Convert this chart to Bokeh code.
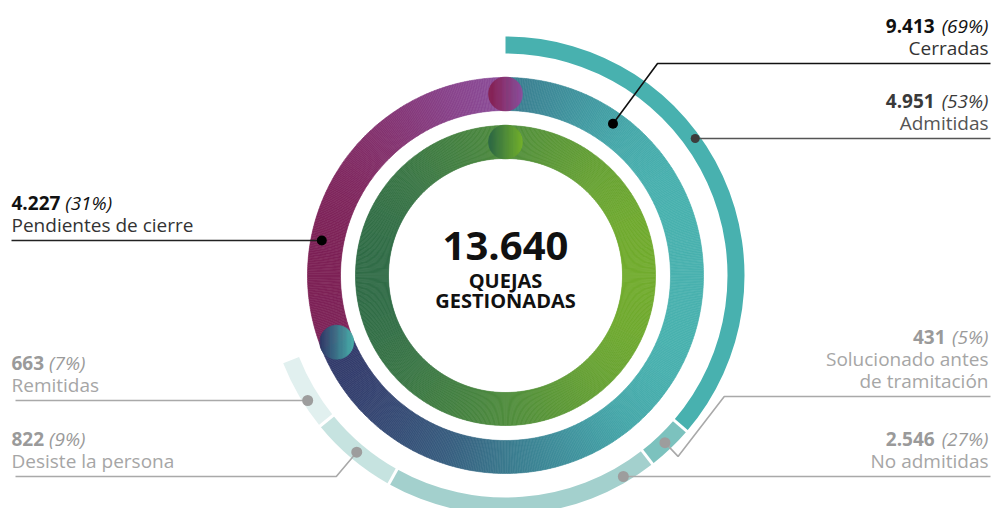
import math
from bokeh.plotting import figure
from bokeh.models import Range1d
from bokeh.core.properties import value
from bokeh.embed import file_html
from bokeh.resources import INLINE

# ---------------- data ----------------
total_value = 13640
total_lines = ["QUEJAS", "GESTIONADAS"]
main_labels = ["Cerradas", "Pendientes de cierre"]
main_values = [9413, 4227]
main_pcts = [69, 31]
sub_labels = ["Admitidas", "Solucionado antes de tramitación", "No admitidas",
              "Desiste la persona", "Remitidas"]
sub_values = [4951, 431, 2546, 822, 663]
sub_pcts = [53, 5, 27, 9, 7]

# ---------------- styles ----------------
FONT = "Open Sans"
green_stops = [(355, "#2c6848"), (505, "#4f8c3d"), (655, "#75af2b")]
teal_stops = [(307, "#2f3365"), (360, "#343f6e"), (450, "#385f80"), (505, "#3a7a8e"),
              (560, "#3f8f9b"), (620, "#45a7a9"), (660, "#48b0ae"), (703, "#49b2af")]
purple_stops = [(305, "#7b1d4f"), (370, "#822e68"), (450, "#88438b"), (505, "#8c4f9b")]
outer_colors = ["#48b1af", "#7cc2be", "#a3d0cd", "#c6e3e0", "#e1f0ef"]

W, H = 992, 508
p = figure(width=W, height=H, x_range=Range1d(0, 992), y_range=Range1d(0, 508),
           output_backend="svg", toolbar_location=None, x_axis_type=None, y_axis_type=None,
           min_border=0, outline_line_color=None)
p.grid.visible = False
p.background_fill_color = "white"
p.border_fill_color = "white"

CX, CY_IMG = 505.0, 275.0
CY = 508 - CY_IMG
R_IN = (117, 150)
R_MID = (165, 198)
R_OUT = (222, 239)
BASE_SHIFT = 0.42  # em offset of rendered alphabetic baseline


def Y(img_y):
    return 508 - img_y


def pt(theta, r):
    t = math.radians(theta)
    return CX + r * math.sin(t), CY + r * math.cos(t)


def h2r(h):
    h = h.lstrip("#")
    return tuple(int(h[i:i + 2], 16) for i in (0, 2, 4))


def r2h(c):
    return "#%02x%02x%02x" % tuple(int(round(v)) for v in c)


def mix(a, b, t):
    A, B = h2r(a), h2r(b)
    return r2h([A[i] + (B[i] - A[i]) * t for i in range(3)])


def grad(stops, x):
    if x <= stops[0][0]:
        return stops[0][1]
    for (x0, c0), (x1, c1) in zip(stops, stops[1:]):
        if x <= x1:
            return mix(c0, c1, (x - x0) / (x1 - x0))
    return stops[-1][1]


def gradient_arc(th0, th1, r0, r1, stops, step=0.5):
    n = max(1, int(math.ceil((th1 - th0) / step)))
    starts, ends, cols = [], [], []
    for i in range(n):
        a = th0 + (th1 - th0) * i / n
        b = th0 + (th1 - th0) * (i + 1) / n
        m = (a + b) / 2
        xm = CX + (r0 + r1) / 2 * math.sin(math.radians(m))
        starts.append(math.radians(90 - b))
        ends.append(math.radians(90 - a))
        cols.append(grad(stops, xm))
    p.annular_wedge(x=CX, y=CY, inner_radius=r0, outer_radius=r1,
                    start_angle=starts, end_angle=ends,
                    fill_color=cols, line_color=cols, line_width=0.6)


def ball(theta, r_ring, rad, c0, c1, n=30):
    cx, cy = pt(theta, r_ring)
    xs, ys, cols = [], [], []
    for i in range(n):
        x0 = cx - rad + 2 * rad * i / n
        x1 = cx - rad + 2 * rad * (i + 1) / n
        top, bot = [], []
        for j in range(5):
            x = x0 + (x1 - x0) * j / 4
            hh = math.sqrt(max(rad * rad - (x - cx) ** 2, 0))
            top.append((x, cy + hh))
            bot.append((x, cy - hh))
        poly = top + bot[::-1]
        xs.append([q[0] for q in poly])
        ys.append([q[1] for q in poly])
        cols.append(mix(c0, c1, (i + 0.5) / n))
    p.patches(xs, ys, fill_color=cols, line_color=cols, line_width=0.5)


# ---------------- rings ----------------
# inner ring: total
gradient_arc(0, 360, R_IN[0], R_IN[1], green_stops)

# middle ring: Cerradas / Pendientes
a_cer = 360.0 * main_values[0] / total_value
gradient_arc(0, a_cer, R_MID[0], R_MID[1], teal_stops)
gradient_arc(a_cer, 360, R_MID[0], R_MID[1], purple_stops)

# outer ring: breakdown of Cerradas
bounds = [0.0]
for v in sub_values:
    bounds.append(bounds[-1] + 360.0 * v / total_value)
p.annular_wedge(x=CX, y=CY, inner_radius=R_OUT[0], outer_radius=R_OUT[1],
                start_angle=[math.radians(90 - b) for b in bounds[1:]],
                end_angle=[math.radians(90 - a) for a in bounds[:-1]],
                fill_color=outer_colors, line_color=None)
sx0, sy0, sx1, sy1 = [], [], [], []
for b in bounds[1:-1]:
    a0 = pt(b, R_OUT[0] - 3)
    a1 = pt(b, R_OUT[1] + 3)
    sx0.append(a0[0]); sy0.append(a0[1]); sx1.append(a1[0]); sy1.append(a1[1])
p.segment(x0=sx0, y0=sy0, x1=sx1, y1=sy1, line_color="white", line_width=3)

# caps / balls
r_mid_c = (R_MID[0] + R_MID[1]) / 2
r_in_c = (R_IN[0] + R_IN[1]) / 2
ball(0, r_mid_c, 17, "#86204f", "#8e4d9d")
ball(0, r_in_c, 17, "#2b6647", "#74b02c")
ball(a_cer, r_mid_c, 17, "#303767", "#4ab4ad")


# ---------------- labels ----------------
def fmt(v):
    return f"{v:,}".replace(",", ".")


CW = {"0": .572, "1": .572, "2": .572, "3": .572, "4": .572, "5": .572, "6": .572,
      "7": .572, "8": .572, "9": .572, ".": .28, "(": .30, ")": .30, "%": .83, " ": .26}


def tw(s, size):
    return sum(CW.get(ch, .6) for ch in s) * size


def txt(x, base_img, s, size, style, color, align):
    y_img = base_img - BASE_SHIFT * size
    p.text(x=[x], y=[Y(y_img)], text=[s], text_font=value(FONT),
           text_font_size=value(f"{size}px"), text_font_style=style,
           text_color=color, text_align=align, text_baseline="alphabetic")


def block(number, pct, names, L, side, cnum, cname, size=19):
    nb = L - 30 - 22 * (len(names) - 1)
    ps = f"({pct}%)"
    ns = fmt(number)
    if side == "right":
        xr = 988
        txt(xr, nb, ps, size, "italic", cnum, "right")
        txt(xr - tw(ps, size) - tw(" ", size), nb, ns, size, "bold", cnum, "right")
        for i, nm in enumerate(names):
            txt(xr, L - 8 - 22 * (len(names) - 1 - i), nm, size, "normal", cname, "right")
    else:
        xl = 11
        txt(xl, nb, ns, size, "bold", cnum, "left")
        txt(xl + tw(ns, size) + tw(" ", size), nb, ps, size, "italic", cnum, "left")
        for i, nm in enumerate(names):
            txt(xl, L - 8 - 22 * (len(names) - 1 - i), nm, size, "normal", cname, "left")


def leader(pts_img, color, width, dot_color, dot_size):
    xs = [q[0] for q in pts_img]
    ys = [Y(q[1]) for q in pts_img]
    p.line(xs, ys, line_color=color, line_width=width)
    p.scatter([xs[0]], [ys[0]], size=dot_size, fill_color=dot_color, line_color=None)


def img_pt(theta, r):
    x, y = pt(theta, r)
    return (x, 508 - y)


def horiz_dot(L, r, side):
    dy = L - CY_IMG
    dx = math.sqrt(r * r - dy * dy)
    return (CX + dx if side == "right" else CX - dx, L)


BLACK_N, BLACK_T = "#111111", "#333333"
ADM_N, ADM_T = "#3a3a3a", "#555555"
GREY_N, GREY_T = "#9a9a9a", "#a6a6a6"
GREY_L = "#a9a9a9"

# Cerradas (middle ring, bent leader)
L = 63
d = img_pt(35.3, 186)
leader([d, (d[0] + (d[1] - L) * 0.74, L), (990, L)], "#111111", 1.6, "#000000", 10)
block(main_values[0], main_pcts[0], [main_labels[0]], L, "right", BLACK_N, BLACK_T)

# Pendientes de cierre
L = 240
d = horiz_dot(L, 187, "left")
leader([d, (11, L)], "#222222", 1.6, "#000000", 10)
block(main_values[1], main_pcts[1], [main_labels[1]], L, "left", BLACK_N, BLACK_T)

# Admitidas
L = 138
d = horiz_dot(L, 234, "right")
leader([d, (990, L)], "#555555", 1.5, "#3c3c3c", 9)
block(sub_values[0], sub_pcts[0], [sub_labels[0]], L, "right", ADM_N, ADM_T)

# Solucionado antes de tramitación
L = 396
tm = (bounds[1] + bounds[2]) / 2
d = img_pt(tm, 231)
o = img_pt(tm, 250)
xL = CX + math.sqrt(250 ** 2 - (L - CY_IMG) ** 2)
leader([d, o, (xL, L), (990, L)], GREY_L, 1.6, "#9d9d9d", 11)
block(sub_values[1], sub_pcts[1], ["Solucionado antes", "de tramitación"], L, "right", GREY_N, GREY_T)

# No admitidas
L = 476
d = horiz_dot(L, 233, "right")
leader([d, (990, L)], GREY_L, 1.6, "#9d9d9d", 11)
block(sub_values[2], sub_pcts[2], [sub_labels[2]], L, "right", GREY_N, GREY_T)

# Desiste la persona
L = 476
tm = (bounds[3] + bounds[4]) / 2
d = img_pt(tm, 231)
rad = (math.sin(math.radians(tm)), -math.cos(math.radians(tm)))
t = (L - d[1]) / rad[1]
leader([d, (d[0] + rad[0] * t, L), (15, L)], GREY_L, 1.6, "#9d9d9d", 11)
block(sub_values[3], sub_pcts[3], [sub_labels[3]], L, "left", GREY_N, GREY_T)

# Remitidas
L = 400
d = horiz_dot(L, 234, "left")
leader([d, (15, L)], GREY_L, 1.6, "#9d9d9d", 11)
block(sub_values[4], sub_pcts[4], [sub_labels[4]], L, "left", GREY_N, GREY_T)

# centre
txt(CX, 262, fmt(total_value), 40, "bold", "#111111", "center")
txt(CX, 288, total_lines[0], 20, "bold", "#111111", "center")
txt(CX, 308, total_lines[1], 20, "bold", "#111111", "center")

open("out.html", "w").write(file_html(p, INLINE))
